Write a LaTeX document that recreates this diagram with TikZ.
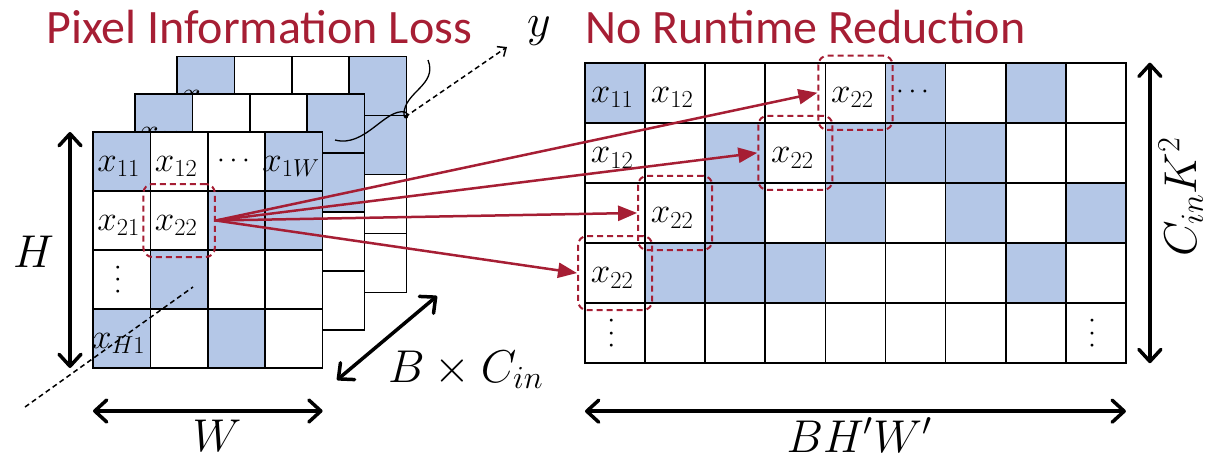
\RequirePackage{fix-cm}
\documentclass[tikz,border=0pt]{standalone}
\usepackage[no-math]{fontspec}
\setmainfont{Carlito}
\usepackage{xcolor}
\usepackage{tikz}
\usetikzlibrary{arrows.meta,positioning,fit}

\definecolor{cellblue}{RGB}{180,199,231}
\definecolor{lossred}{RGB}{166,30,52}
\colorlet{B}{cellblue}
\colorlet{W}{white}

\begin{document}
\begin{tikzpicture}[x=1pt, y=-1pt,
    cell/.style={draw, line width=1.7pt, anchor=north west, minimum width=57.4pt, minimum height=59pt, inner sep=0pt, outer sep=0pt},
    wcell/.style={cell, minimum width=60.1pt, minimum height=60.1pt},
    lbl/.style={font=\fontsize{35}{40}\selectfont, inner sep=0pt, xshift=-3pt, yshift=-5pt},
    dotlbl/.style={font=\fontsize{28}{32}\selectfont, inner sep=0pt, xshift=-3pt},
    mathlbl/.style={font=\fontsize{46}{52}\selectfont, inner sep=0pt},
    title/.style={font=\fontsize{48}{54}\selectfont, text=lossred, inner sep=0pt},
    dimarrow/.style={line width=3.5pt, {Straight Barb[length=12pt,width=22pt,round]}-{Straight Barb[length=12pt,width=22pt,round]}},
    hlbox/.style={draw=lossred, line width=2pt, dash pattern=on 6pt off 4pt, rounded corners=9pt, inner sep=7pt},
    redarrow/.style={draw=lossred, line width=2.5pt, -{Triangle[length=19pt,width=15pt]}},
    axis/.style={line width=1.5pt, dash pattern=on 5pt off 3.5pt}]

\useasboundingbox (0,0) rectangle (1207,461);

% Titles
\node[title, anchor=base west] (loss) at (46,43) {Pixel Information Loss};
\node[title, anchor=base west] (noreduce) at (585,43) {No Runtime Reduction};

% Channels behind the front one
\foreach \l in {2,1} {
  \foreach \row [count=\r] in {{B,W,W,B},{W,W,W,B},{W,W,W,W},{W,W,W,W}}
    \foreach \k [count=\c] in \row
      \node[cell, fill=\k] (b\l-\r-\c) at ({93+42*\l+57.4*(\c-1)}, {132-37.7*\l+59*(\r-1)}) {};
  \node[lbl, yshift=-9pt] at (b\l-1-1) {$x_{11}$};
}

% Front channel H x W
\foreach \row [count=\r] in {{B,W,W,B},{W,W,B,B},{W,B,W,W},{B,W,B,W}}
  \foreach \k [count=\c] in \row
    \node[cell, fill=\k] (f-\r-\c) at ({93+57.4*(\c-1)}, {132+59*(\r-1)}) {};
\node[lbl] (f11) at (f-1-1) {$x_{11}$};
\node[lbl] (f12) at (f-1-2) {$x_{12}$};
\node[dotlbl] (f13) at (f-1-3) {$\cdots$};
\node[lbl] (f1w) at (f-1-4) {$x_{1W}$};
\node[lbl] (f21) at (f-2-1) {$x_{21}$};
\node[lbl] (f22) at (f-2-2) {$x_{22}$};
\node[dotlbl, rotate=90] (f31) at (f-3-1) {$\cdots$};
\node[lbl] (fh1) at (f-4-1) {$x_{H1}$};

% Unfolded matrix
\foreach \row [count=\r] in {{B,W,W,W,W,B,W,B,W},{W,W,B,W,B,B,B,W,W},{W,W,B,W,B,W,B,W,B},{W,B,B,B,W,W,W,B,W},{W,W,W,W,W,W,W,W,W}}
  \foreach \k [count=\c] in \row
    \node[wcell, fill=\k] (g-\r-\c) at ({585+60.1*(\c-1)}, {62.7+60.1*(\r-1)}) {};
\node[lbl] (g11) at (g-1-1) {$x_{11}$};
\node[lbl] (g12) at (g-1-2) {$x_{12}$};
\node[lbl] (g15) at (g-1-5) {$x_{22}$};
\node[dotlbl] (g16) at (g-1-6) {$\cdots$};
\node[lbl] (g21) at (g-2-1) {$x_{12}$};
\node[lbl] (g24) at (g-2-4) {$x_{22}$};
\node[lbl] (g32) at (g-3-2) {$x_{22}$};
\node[lbl] (g41) at (g-4-1) {$x_{22}$};
\node[dotlbl, rotate=90] (g51) at (g-5-1) {$\cdots$};
\node[dotlbl, rotate=90] (g59) at (g-5-9) {$\cdots$};

% Depth axis y
\coordinate (ylow) at (25,407);
\coordinate (ymid) at (193,287);
\coordinate (yhigh) at (405,117);
\coordinate (ytip) at (507,47);
\draw[axis] (ylow) -- (ymid);
\draw[axis, -{Straight Barb[length=7pt,width=12pt]}] (yhigh) -- (ytip);
\node[mathlbl, anchor=base west] (ylbl) at (527,36) {$y$};
\draw[line width=1.3pt] (428,60) .. controls (438,85) and (404,92) .. (404,114)
    .. controls (404,122) and (412,116) .. (405,112)
    .. controls (385,108) and (365,148) .. (335,140);

% Dashed highlight of x22
\node[hlbox, fit=(f-2-2)] (fbox) {};
\node[hlbox, fit=(g-1-5)] (box1) {};
\node[hlbox, fit=(g-2-4)] (box2) {};
\node[hlbox, fit=(g-3-2)] (box3) {};
\node[hlbox, fit=(g-4-1)] (box4) {};

% x22 copied into every column
\draw[redarrow] (fbox.east) -- (box1.west);
\draw[redarrow] (fbox.east) -- (box2.west);
\draw[redarrow] (fbox.east) -- (box3.west);
\draw[redarrow] (fbox.east) -- (box4.west);

% Sizes
\draw[dimarrow] ([xshift=-23pt]f-1-1.north west) -- ([xshift=-23pt]f-4-1.south west);
\node[mathlbl, anchor=base west] (hlbl) at (13,267) {$H$};
\draw[dimarrow] ([yshift=-43pt]f-4-1.south west) -- ([yshift=-43pt]f-4-4.south east);
\node[mathlbl, anchor=base] (wlbl) at (217,451) {$W$};
\coordinate (dlow) at (337,380);
\coordinate (dhigh) at (437,296);
\draw[dimarrow] (dlow) -- (dhigh);
\node[mathlbl, anchor=base west] (blbl) at (388,382) {$B \times C_{in}$};
\draw[dimarrow] ([xshift=24pt]g-1-9.north east) -- ([xshift=24pt]g-5-9.south east);
\node[mathlbl, rotate=90, anchor=base west] (clbl) at (1196,257) {$C_{in}K^2$};
\draw[dimarrow] ([yshift=-48pt]g-5-1.south west) -- ([yshift=-48pt]g-5-9.south east);
\node[mathlbl, anchor=base] (bhw) at (859,452) {$BH'W'$};
\end{tikzpicture}
\end{document}
